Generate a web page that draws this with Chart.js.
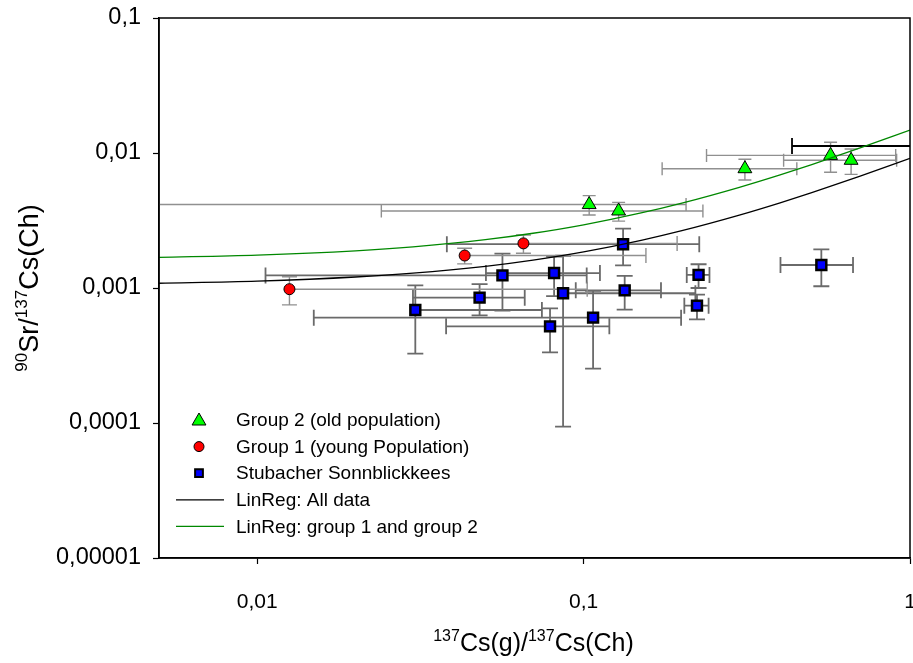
<!DOCTYPE html>
<html>
<head>
<meta charset="utf-8">
<script src="https://cdn.jsdelivr.net/npm/chart.js@4.4.1/dist/chart.umd.min.js"></script>
<style>
html,body{margin:0;padding:0;background:#fff;}
</style>
</head>
<body>
<canvas id="chart" width="913" height="663"></canvas>
<script>
// ---------- data ----------

// Group 2 (old population)
const g2X    = [0.104, 0.128, 0.312, 0.571, 0.660];
const g2Y    = [0.00415, 0.00372, 0.00765, 0.0096, 0.00883];
const g2ErrX = [0.102, 0.104, 0.138, 0.333, 0.250];
const g2ErrY = [0.00068, 0.00059, 0.00134, 0.0024, 0.00188];

// Group 1 (young population)
const g1X    = [0.01255, 0.0432, 0.0654];
const g1Y    = [0.00098, 0.00174, 0.00214];
const g1ErrX = [0.090, 0.112, 0.128];
const g1ErrY = [0.00023, 0.00023, 0.00033];

// Stubacher Sonnblickkees
const ssX    = [0.0564, 0.0812, 0.225, 0.048, 0.0865, 0.1336, 0.0305, 0.2225, 0.1069, 0.0789, 0.1321, 0.535];
const ssY    = [0.00124, 0.00129, 0.00125, 0.000848, 0.000914, 0.000961, 0.000687, 0.00074, 0.000603, 0.00052, 0.00211, 0.00148];
const ssErrX = [0.0458, 0.031, 0.018, 0.018, 0.1335, 0.039, 0.044, 0.019, 0.092, 0.041, 0.094, 0.134];
const ssErrY = [0.00056, 0.00042, 0.00025, 0.00022, 0.00082, 0.00027, 0.00036, 0.000154, 0.00035, 0.000186, 0.00064, 0.00045];

// point beyond the x range, only its black error bar shows
const outX    = [1.3];
const outY    = [0.01127];
const outErrX = [0.865];
const outErrY = [0];

// regression lines, read at a few x positions
const regX     = [0.005, 0.01, 0.02, 0.03, 0.05, 0.07, 0.1, 0.15, 0.2, 0.3, 0.4, 0.5, 0.7, 1];
const regAllY  = [0.001084, 0.001125, 0.001206, 0.001287, 0.001448, 0.00161, 0.001853, 0.002257, 0.002661, 0.00347, 0.004279, 0.005088, 0.006705, 0.009131];
const regG12Y  = [0.001687, 0.001753, 0.001885, 0.002016, 0.00228, 0.002544, 0.002939, 0.003598, 0.004257, 0.005575, 0.006893, 0.008211, 0.010847, 0.014801];

// axes
const xTicks = [0.01, 0.1, 1];
const xTickLabels = ["0,01", "0,1", "1"];
const yTicks = [0.00001, 0.0001, 0.001, 0.01, 0.1];
const yTickLabels = ["0,00001", "0,0001", "0,001", "0,01", "0,1"];

const legendLabels = ["Group 2 (old population)", "Group 1 (young Population)", "Stubacher Sonnblickkees", "LinReg: All data", "LinReg: group 1 and group 2"];

const FONT = "'Liberation Sans', Arial, sans-serif";

function pts(xs, ys){
    return xs.map((v,i) => ({x:v, y:ys[i]}));
}

// ---------- error bars ----------
const errorBars = {
    id:"errorBars",
    beforeDatasetsDraw(chart){
        const {ctx, chartArea:a} = chart;
        const xs = chart.scales.x, ys = chart.scales.y;
        ctx.save();
        ctx.beginPath();
        ctx.rect(a.left, a.top, a.right-a.left, a.bottom-a.top);
        ctx.clip();
        chart.data.datasets.forEach(ds => {
            if(!ds.errX) return;
            ctx.strokeStyle = ds.errColor;
            ctx.lineWidth = ds.errWidth;
            const c = ds.errCap/2;
            ds.data.forEach((p,i) => {
                const px = xs.getPixelForValue(p.x);
                const py = ys.getPixelForValue(p.y);
                const ex = ds.errX[i], ey = ds.errY[i];
                ctx.beginPath();
                if(ex > 0){
                    const hi = xs.getPixelForValue(p.x+ex);
                    ctx.moveTo(px,py); ctx.lineTo(hi,py);
                    ctx.moveTo(hi,py-c); ctx.lineTo(hi,py+c);
                    if(p.x-ex > 0){
                        const lo = xs.getPixelForValue(p.x-ex);
                        ctx.moveTo(px,py); ctx.lineTo(lo,py);
                        ctx.moveTo(lo,py-c); ctx.lineTo(lo,py+c);
                    }
                }
                if(ey > 0){
                    const hi = ys.getPixelForValue(p.y+ey);
                    ctx.moveTo(px,py); ctx.lineTo(px,hi);
                    ctx.moveTo(px-c,hi); ctx.lineTo(px+c,hi);
                    if(p.y-ey > 0){
                        const lo = ys.getPixelForValue(p.y-ey);
                        ctx.moveTo(px,py); ctx.lineTo(px,lo);
                        ctx.moveTo(px-c,lo); ctx.lineTo(px+c,lo);
                    }
                }
                ctx.stroke();
            });
        });
        ctx.restore();
    }
};

// text with superscripts
function richText(ctx, parts, size, supSize){
    let w = 0;
    parts.forEach(p => {
        ctx.font = (p.sup ? supSize : size) + "px " + FONT;
        p.w = ctx.measureText(p.t).width;
        w += p.w;
    });
    let x = -w/2;
    parts.forEach(p => {
        ctx.font = (p.sup ? supSize : size) + "px " + FONT;
        ctx.fillText(p.t, x, p.sup ? -size*0.42 : 0);
        x += p.w;
    });
}

// ---------- frame, titles, legend ----------
const decorations = {
    id:"decorations",
    afterDraw(chart){
        const {ctx, chartArea:a} = chart;
        ctx.save();
        ctx.strokeStyle = "#000";
        ctx.lineWidth = 1.5;
        ctx.strokeRect(a.left, a.top, a.right-a.left, a.bottom-a.top);

        ctx.fillStyle = "#000";
        ctx.textBaseline = "alphabetic";
        ctx.textAlign = "left";

        // x title
        ctx.save();
        ctx.translate((a.left+a.right)/2 - 1, 651);
        richText(ctx, [{t:"137",sup:true},{t:"Cs(g)/"},{t:"137",sup:true},{t:"Cs(Ch)"}], 25, 16);
        ctx.restore();

        // y title
        ctx.save();
        ctx.translate(38, (a.top+a.bottom)/2);
        ctx.rotate(-Math.PI/2);
        richText(ctx, [{t:"90",sup:true},{t:"Sr/"},{t:"137",sup:true},{t:"Cs(Ch)"}], 27, 17);
        ctx.restore();

        // legend
        const lx = 199, tx = 236, y0 = 420, dy = 26.6;
        ctx.font = "19px " + FONT;
        ctx.textBaseline = "middle";
        const marks = [
            {style:"triangle", r:8, fill:"#00ff00", bw:1},
            {style:"circle", r:5, fill:"#ff0000", bw:1},
            {style:"rect", r:5.5, fill:"#0000ff", bw:2}
        ];
        legendLabels.forEach((lab,i) => {
            const y = y0 + i*dy;
            if(i < 3){
                const m = marks[i];
                ctx.fillStyle = m.fill;
                ctx.strokeStyle = "#000";
                ctx.lineWidth = m.bw;
                Chart.helpers.drawPoint(ctx, {pointStyle:m.style, radius:m.r, rotation:0, borderWidth:m.bw}, lx, i===0 ? y+1 : y);
            } else {
                ctx.strokeStyle = i===3 ? "#000" : "#008800";
                ctx.lineWidth = 1.3;
                ctx.beginPath();
                ctx.moveTo(176, y); ctx.lineTo(224, y);
                ctx.stroke();
            }
            ctx.fillStyle = "#000";
            ctx.fillText(lab, tx, y+1);
        });
        ctx.restore();
    }
};

new Chart(document.getElementById("chart"), {
    type:"scatter",
    data:{
        datasets:[
            {
                type:"line", label:legendLabels[3], data:pts(regX, regAllY),
                borderColor:"#000", borderWidth:1.3, pointRadius:0,
                cubicInterpolationMode:"monotone", order:0
            },
            {
                type:"line", label:legendLabels[4], data:pts(regX, regG12Y),
                borderColor:"#008800", borderWidth:1.3, pointRadius:0,
                cubicInterpolationMode:"monotone", order:0
            },
            {
                label:legendLabels[2], data:pts(ssX, ssY),
                errX:ssErrX, errY:ssErrY, errColor:"#6a6a6a", errWidth:1.8, errCap:16,
                pointStyle:"rect", pointRadius:7, backgroundColor:"#0000ff",
                borderColor:"#000", borderWidth:2.5, order:1
            },
            {
                label:legendLabels[1], data:pts(g1X, g1Y),
                errX:g1ErrX, errY:g1ErrY, errColor:"#909090", errWidth:1.4, errCap:15,
                pointStyle:"circle", pointRadius:5.5, backgroundColor:"#ff0000",
                borderColor:"#000", borderWidth:1, order:1
            },
            {
                label:legendLabels[0], data:pts(g2X, g2Y),
                errX:g2ErrX, errY:g2ErrY, errColor:"#909090", errWidth:1.4, errCap:13,
                pointStyle:"triangle", pointRadius:8, backgroundColor:"#00ff00",
                borderColor:"#000", borderWidth:1, order:1
            },
            {
                label:"", data:pts(outX, outY),
                errX:outErrX, errY:outErrY, errColor:"#000", errWidth:1.8, errCap:16,
                pointRadius:0, order:1
            }
        ]
    },
    options:{
        animation:false,
        responsive:false,
        layout:{autoPadding:false, padding:{top:18, right:3, left:0, bottom:0}},
        plugins:{legend:{display:false}, tooltip:{enabled:false}},
        scales:{
            x:{
                type:"logarithmic", min:0.005, max:1,
                afterBuildTicks:s => { s.ticks = xTicks.map(v => ({value:v})); },
                afterFit:s => { s.height = 105; s.paddingLeft = 0; s.paddingRight = 0; },
                ticks:{
                    callback:(v,i) => xTickLabels[i],
                    font:{family:FONT, size:21}, color:"#000",
                    padding:26, maxRotation:0, autoSkip:false
                },
                grid:{display:true, drawOnChartArea:false, drawTicks:true, tickLength:6, tickColor:"#000", tickWidth:1.2},
                border:{display:true, color:"#000", width:1.5}
            },
            y:{
                type:"logarithmic", min:0.00001, max:0.1,
                afterBuildTicks:s => { s.ticks = yTicks.map(v => ({value:v})); },
                afterFit:s => { s.width = 159; s.paddingTop = 0; s.paddingBottom = 0; },
                ticks:{
                    callback:(v,i) => yTickLabels[i],
                    font:{family:FONT, size:23.5}, color:"#000",
                    padding:12, autoSkip:false
                },
                grid:{display:true, drawOnChartArea:false, drawTicks:true, tickLength:6, tickColor:"#000", tickWidth:1.2},
                border:{display:true, color:"#000", width:1.5}
            }
        }
    },
    plugins:[errorBars, decorations]
});
</script>
</body>
</html>
